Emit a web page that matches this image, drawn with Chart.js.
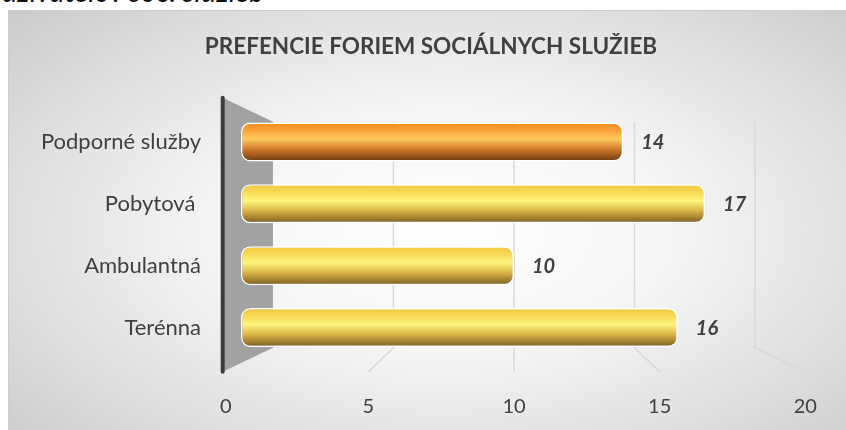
<!DOCTYPE html>
<html>
<head>
<meta charset="utf-8">
<script src="https://cdn.jsdelivr.net/npm/chart.js@4.4.1/dist/chart.umd.min.js"></script>
<style>
  html, body { margin: 0; padding: 0; width: 846px; height: 430px; overflow: hidden; background: #fff; }
  #caption { position: absolute; left: 2px; top: -24px; font: italic 29px/1 Lato, sans-serif; color: #111; white-space: nowrap; }
  #box {
    position: absolute; left: 8px; top: 10px; width: 840px; height: 422px;
    border: 1px solid #cdcdcd;
    background: radial-gradient(ellipse 75% 80% at 52% 52%, #ffffff 0%, #f6f6f6 35%, #dedede 70%, #c6c6c6 100%);
  }
  #chart { position: absolute; left: 0; top: 0; }
</style>
</head>
<body>
<div id="caption">užívateľov soc. služieb</div>
<div id="box"></div>
<canvas id="chart" width="846" height="430"></canvas>
<script>
// chart data
const chartTitle = 'PREFENCIE FORIEM SOCIÁLNYCH SLUŽIEB';
const categories = ['Podporné služby', 'Pobytová ', 'Ambulantná', 'Terénna'];
const values = [14, 17, 10, 16];
const xTicks = [0, 5, 10, 15, 20];

// look & feel
const FONT = 'Lato, "Open Sans", sans-serif';
const TEXT = '#404040';
const BAR_PCT = 0.63;
const HIGHLIGHT = 0; // first bar is orange
const BACK_K = 0.883, FRONT_K = 1.067;   // horizontal perspective of back wall / floor edge
const BACK_KY = 0.913, FRONT_KY = 1.108; // vertical perspective
const orangeStops = [[0, '#ef8a20'], [0.22, '#f9a43a'], [0.42, '#ffca5e'], [0.68, '#d27c28'], [1, '#6a3912']];
const yellowStops = [[0, '#f0c63e'], [0.25, '#f9df5c'], [0.42, '#fff47e'], [0.68, '#d8b446'], [1, '#7a5b21']];

function barFill(context) {
    const chart = context.chart;
    const area = chart.chartArea;
    if (!area) return '#f9df5c';
    const y = chart.scales.y.getPixelForValue(context.dataIndex);
    const h = (area.bottom - area.top) / categories.length * BAR_PCT;
    const g = chart.ctx.createLinearGradient(0, y - h / 2, 0, y + h / 2);
    const stops = context.dataIndex === HIGHLIGHT ? orangeStops : yellowStops;
    stops.forEach(s => g.addColorStop(s[0], s[1]));
    return g;
}

// back wall, grid, floor lines and x labels drawn in fake 3D
const perspective = {
    id: 'perspective',
    beforeDatasetsDraw(chart) {
        const { ctx, chartArea: a, scales: { x } } = chart;
        const cx = x.getPixelForValue((x.min + x.max) / 2);
        const cy = (a.top + a.bottom) / 2;
        const half = (a.bottom - a.top) / 2;
        const back = v => cx + (x.getPixelForValue(v) - cx) * BACK_K;
        const front = v => cx + (x.getPixelForValue(v) - cx) * FRONT_K;
        const bTop = cy - half * BACK_KY, bBot = cy + half * BACK_KY;
        const fTop = cy - half * FRONT_KY, fBot = cy + half * FRONT_KY;

        ctx.save();
        // side wall
        ctx.fillStyle = '#a2a2a2';
        ctx.beginPath();
        ctx.moveTo(front(0), fTop);
        ctx.lineTo(back(0), bTop);
        ctx.lineTo(back(0), bBot);
        ctx.lineTo(front(0), fBot);
        ctx.closePath();
        ctx.fill();

        // gridlines on back wall + floor
        ctx.strokeStyle = '#d9d9d9';
        ctx.lineWidth = 1.5;
        xTicks.forEach(v => {
            if (v === 0) return;
            ctx.beginPath();
            ctx.moveTo(back(v), bTop);
            ctx.lineTo(back(v), bBot);
            ctx.lineTo(front(v), fBot);
            ctx.stroke();
        });

        // dark wall edge
        ctx.strokeStyle = '#3c3c3c';
        ctx.lineWidth = 4;
        ctx.lineCap = 'round';
        ctx.beginPath();
        ctx.moveTo(front(0), fTop);
        ctx.lineTo(front(0), fBot);
        ctx.stroke();

        // x axis labels
        ctx.fillStyle = TEXT;
        ctx.font = '20px ' + FONT;
        ctx.textAlign = 'center';
        ctx.textBaseline = 'middle';
        xTicks.forEach(v => ctx.fillText(String(v), front(v) + (v === 0 ? 3 : 0), fBot + 35));
        ctx.restore();
    },
    afterDatasetsDraw(chart) {
        const { ctx } = chart;
        const meta = chart.getDatasetMeta(0);
        ctx.save();
        ctx.fillStyle = TEXT;
        ctx.font = 'italic bold 20px ' + FONT;
        ctx.textAlign = 'left';
        ctx.textBaseline = 'middle';
        meta.data.forEach((bar, i) => ctx.fillText(String(values[i]), bar.x + 18, bar.y + 1));
        // title
        ctx.font = 'bold 22.5px ' + FONT;
        ctx.textAlign = 'center';
        ctx.fillText(chartTitle, 431, 47);
        ctx.restore();
    }
};

document.addEventListener('DOMContentLoaded', () => {
    const ctx = document.getElementById('chart').getContext('2d');
    new Chart(ctx, {
        type: 'bar',
        data: {
            labels: categories,
            datasets: [{
                data: values,
                backgroundColor: barFill,
                borderColor: '#ffffff',
                borderWidth: 1.5,
                borderSkipped: false,
                borderRadius: 9,
                barPercentage: BAR_PCT,
                categoryPercentage: 1
            }]
        },
        options: {
            indexAxis: 'y',
            responsive: false,
            animation: false,
            layout: { padding: { top: 111, right: 59, bottom: 71.5, left: 0 } },
            plugins: { legend: { display: false }, tooltip: { enabled: false } },
            scales: {
                x: { display: false, min: 0, max: 20 },
                y: {
                    grid: { display: false, drawTicks: false },
                    border: { display: false },
                    ticks: { color: TEXT, font: { family: FONT, size: 22 }, padding: 40 },
                    afterFit: scale => { scale.width = 241; }
                }
            }
        },
        plugins: [perspective]
    });
});
</script>
</body>
</html>
